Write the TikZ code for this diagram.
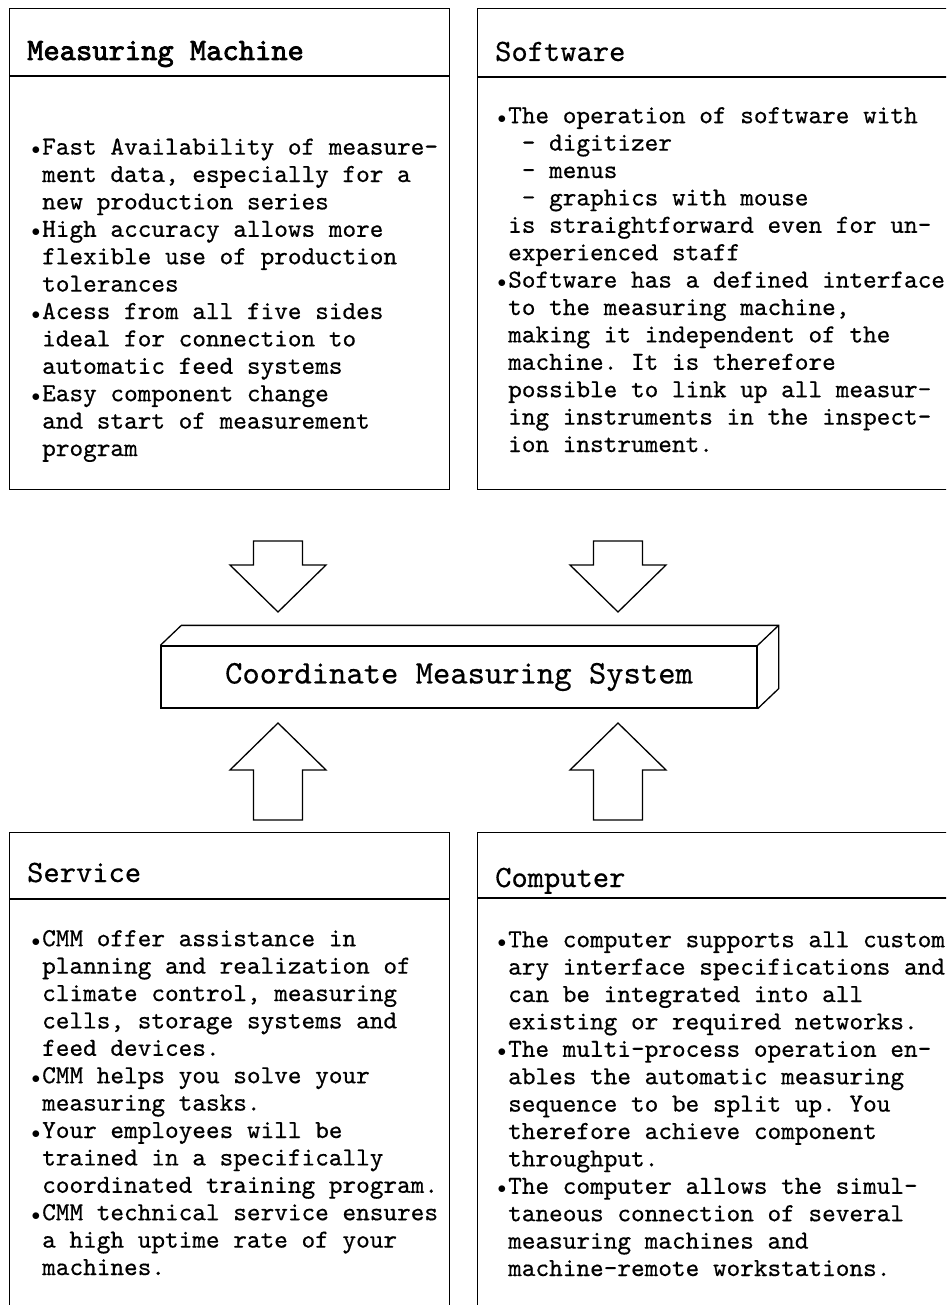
\documentclass[tikz,border=0pt]{standalone}
\usepackage{fontspec}
\usepackage{tikz}
\usetikzlibrary{calc}

\setmonofont[FakeBold=0.5]{lmmono10-regular.otf}
\newfontfamily\titlebold[FakeBold=2.5]{lmmono10-regular.otf}

% bullet hanging left of the text column
\newcommand\itm{\llap{$\scriptstyle\bullet$\kern2pt}}

\tikzset{
  panel/.style={draw, line width=1.3pt, anchor=north west, inner sep=0pt,
    minimum width=440pt, minimum height=481pt},
  headrule/.style={line width=1.4pt},
  paneltitle/.style={anchor=base west, inner sep=0pt,
    font=\ttfamily\fontsize{31}{34}\selectfont},
  paneltext/.style={anchor=base west, inner sep=0pt, align=left,
    font=\ttfamily\fontsize{26}{27.4}\selectfont},
  blockarrow/.style={line width=1.3pt, line join=miter},
  blk down/.pic={\draw[blockarrow] (-24.5,0) -- (24.5,0) -- (24.5,24) -- (48,24)
    -- (0,71) -- (-48,24) -- (-24.5,24) -- cycle;},
  blk up/.pic={\draw[blockarrow] (0,0) -- (48,47) -- (24.5,47) -- (24.5,97)
    -- (-24.5,97) -- (-24.5,47) -- (-48,47) -- cycle;},
}

\begin{document}
\begin{tikzpicture}[x=1pt, y=-1pt]
\useasboundingbox (0,0) rectangle (946,1305);
\clip (0,0) rectangle (946,1305);

% four panels
\node[panel] (mm) at (9,8) {};
\node[panel, minimum width=483pt] (sw) at (477,8) {};
\node[panel, minimum height=500pt] (sv) at (9,832) {};
\node[panel, minimum width=483pt, minimum height=500pt] (cp) at (477,832) {};

\draw[headrule] ([yshift=-68pt]mm.north west) -- ([yshift=-68pt]mm.north east);
\draw[headrule] ([yshift=-69pt]sw.north west) -- ([yshift=-69pt]sw.north east);
\draw[headrule] ([yshift=-67pt]sv.north west) -- ([yshift=-67pt]sv.north east);
\draw[headrule] ([yshift=-66pt]cp.north west) -- ([yshift=-66pt]cp.north east);

\node[paneltitle] (mmtitle) at (27,60) {\titlebold Measuring Machine};
\node[paneltitle] (swtitle) at (495,61) {Software};
\node[paneltitle] (svtitle) at (27,882) {Service};
\node[paneltitle] (cptitle) at (495,887) {Computer};

% texts hang from the baseline of their last line
\node[paneltext] (mmtext) at (42,456) {%
\itm Fast Availability of measure-\\
ment data, especially for a\\
new production series\\
\itm High accuracy allows more\\
flexible use of production\\
tolerances\\
\itm Acess from all five sides\\
ideal for connection to\\
automatic feed systems\\
\itm Easy component change\\
and start of measurement\\
program};

\node[paneltext] (swtext) at (508,452) {%
\itm The operation of software with\\
~- digitizer\\
~- menus\\
~- graphics with mouse\\
is straightforward even for un-\\
experienced staff\\
\itm Software has a defined interface\\
to the measuring machine,\\
making it independent of the\\
machine. It is therefore\\
possible to link up all measur-\\
ing instruments in the inspect-\\
ion instrument.};

\node[paneltext] (svtext) at (42,1275) {%
\itm CMM offer assistance in\\
planning and realization of\\
climate control, measuring\\
cells, storage systems and\\
feed devices.\\
\itm CMM helps you solve your\\
measuring tasks.\\
\itm Your employees will be\\
trained in a specifically\\
coordinated training program.\\
\itm CMM technical service ensures\\
a high uptime rate of your\\
machines.};

\node[paneltext] (cptext) at (508,1276) {%
\itm The computer supports all custom\\
ary interface specifications and\\
can be integrated into all\\
existing or required networks.\\
\itm The multi-process operation en-\\
ables the automatic measuring\\
sequence to be split up. You\\
therefore achieve component\\
throughput.\\
\itm The computer allows the simul-\\
taneous connection of several\\
measuring machines and\\
machine-remote workstations.};

% the system block
\node[draw, line width=1.3pt, inner sep=0pt, minimum width=596pt, minimum height=62pt,
  font=\ttfamily\fontsize{33}{36}\selectfont] (cms) at (459,677) {Coordinate Measuring System};
\draw[blockarrow] (cms.north west) -- ++(21,-20) -- ($(cms.north east)+(21,-20)$)
  -- ($(cms.south east)+(21,-20)$) -- (cms.south east)
  (cms.north east) -- ++(21,-20);

% block arrows
\pic at (278,541) {blk down};
\pic at (618,541) {blk down};
\pic at (278,723) {blk up};
\pic at (618,723) {blk up};
\end{tikzpicture}
\end{document}
